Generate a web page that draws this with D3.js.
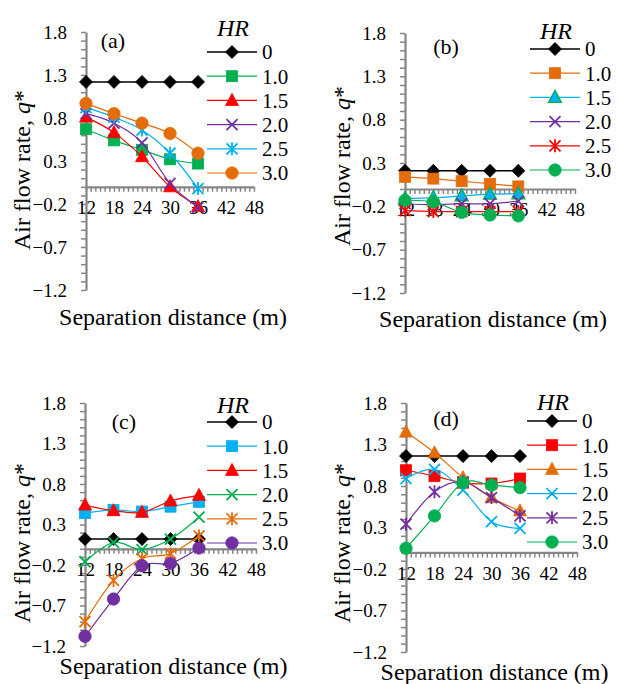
<!DOCTYPE html>
<html>
<head>
<meta charset="utf-8">
<script src="https://cdn.jsdelivr.net/npm/d3@7"></script>
<style>
  body { margin: 0; background: #fff; }
  svg { display: block; }
  text { font-family: "Times New Roman", "Liberation Serif", "DejaVu Serif", serif; fill: #000; }
</style>
</head>
<body>
<svg id="chart" width="618" height="684"></svg>
<script>
// Separation distances (m) at which q* was computed
const distances = [12, 18, 24, 30, 36];
const xTickValues = [12, 18, 24, 30, 36, 42, 48];
const yTickValues = [-1.2, -0.7, -0.2, 0.3, 0.8, 1.3, 1.8];
const hrLevels = ["0", "1.0", "1.5", "2.0", "2.5", "3.0"];
const panelTags = ["(a)", "(b)", "(c)", "(d)"];

// Air flow rate q*, one row per HR level (0, 1.0, 1.5, 2.0, 2.5, 3.0)
const qPanelA = [
  [1.22, 1.22, 1.22, 1.22, 1.22],
  [0.67, 0.54, 0.43, 0.32, 0.27],
  [0.81, 0.63, 0.35, 0.00, -0.23],
  [0.85, 0.74, 0.51, 0.04, -0.24],
  [0.92, 0.81, 0.66, 0.39, -0.02],
  [0.97, 0.85, 0.74, 0.62, 0.39]
];
const qPanelB = [
  [0.21, 0.21, 0.21, 0.21, 0.21],
  [0.14, 0.12, 0.09, 0.06, 0.03],
  [-0.11, -0.10, -0.08, -0.06, -0.055],
  [-0.17, -0.18, -0.17, -0.17, -0.14],
  [-0.25, -0.26, -0.26, -0.26, -0.26],
  [-0.13, -0.15, -0.27, -0.30, -0.31]
];
const qPanelC = [
  [0.12, 0.12, 0.12, 0.12, 0.12],
  [0.44, 0.48, 0.46, 0.52, 0.58],
  [0.54, 0.47, 0.45, 0.59, 0.66],
  [-0.16, 0.08, -0.01, 0.12, 0.39],
  [-0.90, -0.39, -0.12, -0.06, 0.16],
  [-1.08, -0.62, -0.21, -0.18, 0.01]
];
const qPanelD = [
  [1.16, 1.16, 1.16, 1.16, 1.16],
  [0.99, 0.92, 0.84, 0.83, 0.89],
  [1.45, 1.20, 0.90, 0.66, 0.50],
  [0.89, 1.00, 0.75, 0.37, 0.29],
  [0.34, 0.73, 0.85, 0.66, 0.44],
  [0.05, 0.44, 0.84, 0.81, 0.78]
];

// Series styling
const markerShapes = ["diamond", "square", "triangle", "cross", "asterisk", "circle"];
const colorsA = ["#000000", "#00B050", "#FF0000", "#7030A0", "#00B0F0", "#E46C0A"];
const colorsB = ["#000000", "#E46C0A", "#00B0F0", "#7030A0", "#FF0000", "#00B050"];
const colorsC = ["#000000", "#00B0F0", "#FF0000", "#00B050", "#E46C0A", "#7030A0"];
const colorsD = ["#000000", "#FF0000", "#E46C0A", "#00B0F0", "#7030A0", "#00B050"];
const markerEdgeB = [null, null, "#00B050", null, null, null];

// Placement of the four panels on the page
const layout = [
  { x0: 86,  x1: 254, yTop: 32,  yBot: 290, legX: 207, legY: 52,  hrY: 28,  tagX: 113, tagY: 40,  yTitleX: 22,  yTitleY: 170, xTitleY: 325 },
  { x0: 405, x1: 575, yTop: 33,  yBot: 293, legX: 530, legY: 49,  hrY: 31,  tagX: 446, tagY: 46,  yTitleX: 342, yTitleY: 166, xTitleY: 327 },
  { x0: 85,  x1: 256, yTop: 403, yBot: 646, legX: 207, legY: 422, hrY: 405, tagX: 124, tagY: 421, yTitleX: 22,  yTitleY: 543, xTitleY: 674 },
  { x0: 406, x1: 577, yTop: 403, yBot: 652, legX: 527, legY: 421, hrY: 402, tagX: 446, tagY: 418, yTitleX: 342, yTitleY: 543, xTitleY: 680 }
];

const panelData = [qPanelA, qPanelB, qPanelC, qPanelD];
const panelColors = [colorsA, colorsB, colorsC, colorsD];
const panelEdges = [null, markerEdgeB, null, null];

const svg = d3.select("#chart");
const axisGray = "#868686";
const serif = "Times New Roman, Liberation Serif, serif";

function drawMarker(g, shape, cx, cy, color, edge) {
  const stroke = edge || color;
  if (shape === "diamond") {
    g.append("path").attr("d", `M${cx},${cy - 6.5}L${cx + 6.5},${cy}L${cx},${cy + 6.5}L${cx - 6.5},${cy}Z`)
      .attr("fill", color).attr("stroke", stroke).attr("stroke-width", 0.8);
  } else if (shape === "square") {
    g.append("rect").attr("x", cx - 5.5).attr("y", cy - 5.5).attr("width", 11).attr("height", 11)
      .attr("fill", color).attr("stroke", stroke).attr("stroke-width", 0.8);
  } else if (shape === "triangle") {
    g.append("path").attr("d", `M${cx},${cy - 7}L${cx + 6.5},${cy + 5}L${cx - 6.5},${cy + 5}Z`)
      .attr("fill", color).attr("stroke", stroke).attr("stroke-width", edge ? 1.3 : 0.8);
  } else if (shape === "circle") {
    g.append("circle").attr("cx", cx).attr("cy", cy).attr("r", 6.2)
      .attr("fill", color).attr("stroke", stroke).attr("stroke-width", 0.8);
  } else if (shape === "cross") {
    g.append("path").attr("d", `M${cx - 5.5},${cy - 5.5}L${cx + 5.5},${cy + 5.5}M${cx - 5.5},${cy + 5.5}L${cx + 5.5},${cy - 5.5}`)
      .attr("fill", "none").attr("stroke", color).attr("stroke-width", 1.8);
  } else if (shape === "asterisk") {
    g.append("path").attr("d", `M${cx - 5.5},${cy - 5.5}L${cx + 5.5},${cy + 5.5}M${cx - 5.5},${cy + 5.5}L${cx + 5.5},${cy - 5.5}M${cx},${cy - 6.5}L${cx},${cy + 6.5}`)
      .attr("fill", "none").attr("stroke", color).attr("stroke-width", 1.8);
  }
}

panelData.forEach((rows, p) => {
  const L = layout[p];
  const colors = panelColors[p];
  const edges = panelEdges[p];
  const x = d3.scaleLinear().domain([12, 48]).range([L.x0, L.x1]);
  const y = d3.scaleLinear().domain([-1.2, 1.8]).range([L.yBot, L.yTop]);
  const g = svg.append("g");

  // minor ticks on the vertical axis
  g.append("g").attr("transform", `translate(${L.x0},0)`)
    .call(d3.axisLeft(y).tickValues(d3.range(-12, 19).map(i => i / 10)).tickSize(5).tickSizeOuter(0).tickFormat(""))
    .call(a => a.select(".domain").remove())
    .call(a => a.selectAll("line").attr("stroke", axisGray).attr("stroke-width", 1.5));
  // vertical axis with labels
  g.append("g").attr("transform", `translate(${L.x0},0)`)
    .call(d3.axisLeft(y).tickValues(yTickValues).tickSize(0).tickSizeOuter(0).tickPadding(19).tickFormat(d3.format(".1f")))
    .call(a => a.select(".domain").attr("stroke", axisGray).attr("stroke-width", 2.2))
    .call(a => a.selectAll("text").attr("font-size", 19).attr("font-family", serif).attr("fill", "#000"));

  // minor ticks on the horizontal axis
  g.append("g").attr("transform", `translate(0,${y(0)})`)
    .call(d3.axisBottom(x).tickValues(d3.range(12, 49)).tickSize(5).tickSizeOuter(0).tickFormat(""))
    .call(a => a.select(".domain").remove())
    .call(a => a.selectAll("line").attr("stroke", axisGray).attr("stroke-width", 1.5));
  // horizontal axis with labels
  g.append("g").attr("transform", `translate(0,${y(0)})`)
    .call(d3.axisBottom(x).tickValues(xTickValues).tickSize(0).tickSizeOuter(0).tickPadding(14))
    .call(a => a.select(".domain").attr("stroke", axisGray).attr("stroke-width", 2.2))
    .call(a => a.selectAll("text").attr("font-size", 19).attr("font-family", serif).attr("fill", "#000"));

  // axis titles
  g.append("text").attr("x", (L.x0 + L.x1) / 2 + 3).attr("y", L.xTitleY)
    .attr("text-anchor", "middle").attr("font-size", 24).text("Separation distance (m)");
  const yt = g.append("text").attr("transform", `translate(${L.yTitleX},${L.yTitleY}) rotate(-90)`)
    .attr("text-anchor", "middle").attr("dy", "0.35em").attr("font-size", 24);
  yt.append("tspan").text("Air flow rate, ");
  yt.append("tspan").attr("font-style", "italic").text("q");
  yt.append("tspan").text("*");

  // panel tag
  g.append("text").attr("x", L.tagX).attr("y", L.tagY).attr("dy", "0.35em")
    .attr("text-anchor", "middle").attr("font-size", 22).text(panelTags[p]);

  // series lines and markers
  const line = d3.line().x((d, i) => x(distances[i])).y(d => y(d)).curve(d3.curveCatmullRom.alpha(0));
  rows.forEach((vals, s) => {
    g.append("path").datum(vals).attr("d", line).attr("fill", "none")
      .attr("stroke", colors[s]).attr("stroke-width", s === 0 ? 1.5 : 1.2);
    const mg = g.append("g");
    vals.forEach((v, i) => drawMarker(mg, markerShapes[s], x(distances[i]), y(v), colors[s], edges ? edges[s] : null));
  });

  // legend
  g.append("text").attr("x", L.legX + 26).attr("y", L.hrY).attr("dy", "0.35em")
    .attr("text-anchor", "middle").attr("font-size", 24).attr("font-style", "italic").text("HR");
  hrLevels.forEach((lab, s) => {
    const ly = L.legY + s * 24.2;
    g.append("line").attr("x1", L.legX).attr("x2", L.legX + 50).attr("y1", ly).attr("y2", ly)
      .attr("stroke", colors[s]).attr("stroke-width", s === 0 ? 1.5 : 1.2);
    drawMarker(g, markerShapes[s], L.legX + 25, ly, colors[s], edges ? edges[s] : null);
    g.append("text").attr("x", L.legX + 55).attr("y", ly).attr("dy", "0.35em")
      .attr("font-size", 21).text(lab);
  });
});
</script>
</body>
</html>
